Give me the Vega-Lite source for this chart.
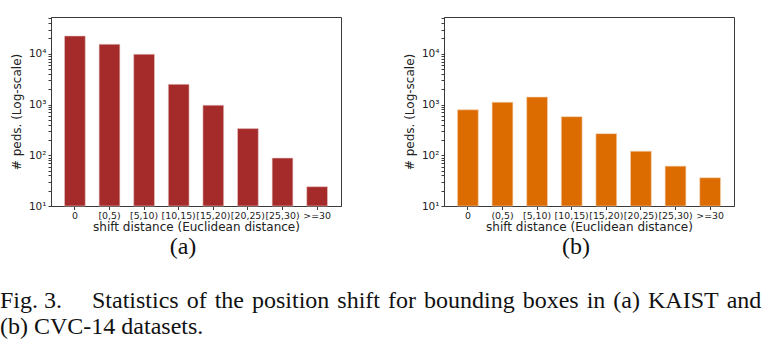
{
  "$schema": "https://vega.github.io/schema/vega-lite/v6.json",
  "padding": {"left": 0, "top": 12, "right": 5, "bottom": 5},
  "background": "white",
  "config": {
    "view": {"stroke": "#3a3a3a", "strokeWidth": 1},
    "font": "DejaVu Sans",
    "axis": {"domainColor": "#3a3a3a", "tickColor": "#3a3a3a", "labelColor": "#222222", "titleColor": "#222222", "labelFont": "DejaVu Sans", "titleFont": "DejaVu Sans", "titleFontWeight": "normal", "grid": false},
    "concat": {"spacing": 60}
  },
  "title": {
    "text": ["Fig. 3.\u00a0\u00a0\u00a0\u00a0\u00a0Statistics\u200a of\u200a the\u200a position\u200a shift\u200a for\u200a bounding\u200a boxes\u200a in\u200a (a)\u200a KAIST\u200a and", "(b) CVC-14 datasets."],
    "orient": "bottom", "anchor": "start", "frame": "group", "dx": -51, "offset": 30,
    "font": "Liberation Serif", "fontSize": 24, "fontWeight": "normal", "lineHeight": 26, "color": "#111111"
  },
  "hconcat": [
    {
      "width": 290, "height": 189,
      "data": {"values": [
        {"bin": "0", "count": 22400},
        {"bin": "[0,5)", "count": 15400},
        {"bin": "[5,10)", "count": 9800},
        {"bin": "[10,15)", "count": 2500},
        {"bin": "[15,20)", "count": 970},
        {"bin": "[20,25)", "count": 335},
        {"bin": "[25,30)", "count": 88},
        {"bin": ">=30", "count": 24}
      ]},
      "mark": {"type": "bar", "color": "#a52a2a", "stroke": "#e9c8c8", "strokeWidth": 0.6},
      "title": {"text": "(a)", "orient": "bottom", "font": "Liberation Serif", "fontSize": 24, "fontWeight": "normal", "color": "#111111", "dx": -13, "offset": 2},
      "encoding": {
        "x": {"field": "bin", "type": "nominal", "sort": null,
          "scale": {"paddingInner": 0.4, "paddingOuter": 0.39},
          "axis": {"title": "shift distance (Euclidean distance)", "labelAngle": 0, "labelFontSize": 9.4, "titleFontSize": 12, "tickSize": 3.5, "labelPadding": 2, "titlePadding": 2}},
        "y": {"field": "count", "type": "quantitative",
          "scale": {"type": "log", "domain": [10, 53000], "nice": false},
          "axis": {"title": "# peds. (Log-scale)", "titleFontSize": 12, "labelFontSize": 10.5, "tickSize": 3, "labelPadding": 2, "titlePadding": 5, "labelOverlap": false,
            "values": [10, 20, 30, 40, 50, 60, 70, 80, 90, 100, 200, 300, 400, 500, 600, 700, 800, 900, 1000, 2000, 3000, 4000, 5000, 6000, 7000, 8000, 9000, 10000, 20000, 30000, 40000, 50000],
            "labelExpr": "datum.value==10?'10¹':datum.value==100?'10²':datum.value==1000?'10³':datum.value==10000?'10⁴':''"}},
        "y2": {"datum": 10}
      }
    },
    {
      "width": 290, "height": 189,
      "data": {"values": [
        {"bin": "0", "count": 787},
        {"bin": "(0,5)", "count": 1110},
        {"bin": "[5,10)", "count": 1400},
        {"bin": "[10,15)", "count": 575},
        {"bin": "[15,20)", "count": 266},
        {"bin": "[20,25)", "count": 120},
        {"bin": "[25,30)", "count": 61},
        {"bin": ">=30", "count": 36}
      ]},
      "mark": {"type": "bar", "color": "#dc6b00", "stroke": "#f3d2b2", "strokeWidth": 0.6},
      "title": {"text": "(b)", "orient": "bottom", "font": "Liberation Serif", "fontSize": 24, "fontWeight": "normal", "color": "#111111", "dx": -13, "offset": 2},
      "encoding": {
        "x": {"field": "bin", "type": "nominal", "sort": null,
          "scale": {"paddingInner": 0.4, "paddingOuter": 0.39},
          "axis": {"title": "shift distance (Euclidean distance)", "labelAngle": 0, "labelFontSize": 9.4, "titleFontSize": 12, "tickSize": 3.5, "labelPadding": 2, "titlePadding": 2}},
        "y": {"field": "count", "type": "quantitative",
          "scale": {"type": "log", "domain": [10, 53000], "nice": false},
          "axis": {"title": "# peds. (Log-scale)", "titleFontSize": 12, "labelFontSize": 10.5, "tickSize": 3, "labelPadding": 2, "titlePadding": 5, "labelOverlap": false,
            "values": [10, 20, 30, 40, 50, 60, 70, 80, 90, 100, 200, 300, 400, 500, 600, 700, 800, 900, 1000, 2000, 3000, 4000, 5000, 6000, 7000, 8000, 9000, 10000, 20000, 30000, 40000, 50000],
            "labelExpr": "datum.value==10?'10¹':datum.value==100?'10²':datum.value==1000?'10³':datum.value==10000?'10⁴':''"}},
        "y2": {"datum": 10}
      }
    }
  ]
}
